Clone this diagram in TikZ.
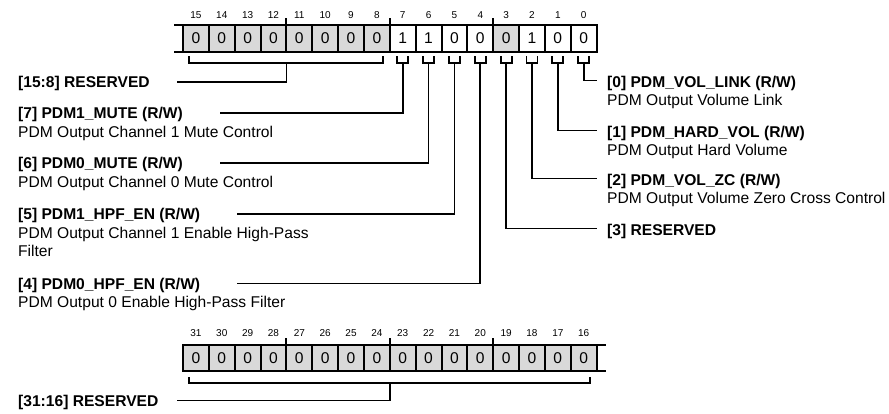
\documentclass[tikz,border=0pt]{standalone}
\usepackage{fontspec}
\setmainfont{Liberation Sans}
\begin{document}
\begin{tikzpicture}[x=1pt,y=1pt,
  cell/.style={draw, line width=2pt, minimum width=25.85pt, minimum height=26.7pt,
    inner sep=0pt, outer sep=0pt, font=\fontsize{15.6}{18}\selectfont, anchor=center},
  res/.style={cell, fill=gray!30},
  wcell/.style={cell, fill=white},
  bitno/.style={font=\fontsize{10}{11}\selectfont, inner sep=0pt},
  conn/.style={line width=1.8pt},
  tickline/.style={line width=2pt},
  lbl/.style={anchor=base west, inner sep=0pt, align=left,
    font=\fontsize{15.6}{18.7}\selectfont}
]
\useasboundingbox (0,0) rectangle (889,-413);

% ---- top register, bits 15..0
\foreach \i/\v/\s in {15/0/res,14/0/res,13/0/res,12/0/res,11/0/res,10/0/res,9/0/res,8/0/res,
                      7/1/wcell,6/1/wcell,5/0/wcell,4/0/wcell,3/0/res,2/1/wcell,1/0/wcell,0/0/wcell} {
  \pgfmathsetmacro\cx{183+25.85*(15-\i)+12.925}
  \node[\s] (t\i) at (\cx,-38.35) {\v};
  \node[bitno] (tn\i) at (\cx,-15) {\i};
}
% ---- bottom register, bits 31..16
\foreach \i in {31,30,...,16} {
  \pgfmathsetmacro\cx{183+25.85*(31-\i)+12.925}
  \node[res] (b\i) at (\cx,-358) {0};
  \node[bitno] (bn\i) at (\cx,-333) {\i};
}

% ticks
\foreach \n in {t11,t7,t3,b27,b23,b19}
  \draw[tickline] (\n.north west) -- ++(0,7);
% register continuation marks
\draw[tickline] (t15.north west) -- ++(-9,0);
\draw[tickline] (t15.south west) -- ++(-9,0);
\draw[tickline] (b16.north east) -- ++(9,0);
\draw[tickline] (b16.south east) -- ++(9,0);

% label end coordinates
\coordinate (c158) at (177,-81.7);
\coordinate (c7) at (220,-113);
\coordinate (c6) at (220,-163);
\coordinate (c5) at (237,-213.7);
\coordinate (c4) at (237,-283.5);
\coordinate (c0) at (597,-80.5);
\coordinate (c1) at (597,-130.5);
\coordinate (c2) at (597,-178.5);
\coordinate (c3) at (597,-228.5);
\coordinate (c3116) at (177,-400.5);

% single-bit brackets and stems
\foreach \i in {7,6,5,4,3,2,1,0} {
  \draw[conn] ([xshift=-5.5pt,yshift=-4.3pt]t\i.south) -- ++(0,-6.7) -- ++(11,0) -- ++(0,6.7);
  \draw[conn] ([yshift=-11pt]t\i.south) |- (c\i);
}
% [15:8] bracket
\draw[conn] ([xshift=6pt,yshift=-4.3pt]t15.south west) -- ++(0,-6.7)
  -| ([xshift=-6.5pt,yshift=-4.3pt]t8.south east);
\draw[conn] ([yshift=-11pt]t11.south west) |- (c158);
% [31:16] bracket
\draw[conn] ([xshift=6pt,yshift=-5.7pt]b31.south west) -- ++(0,-6.3)
  -| ([xshift=-6.5pt,yshift=-5.7pt]b16.south east);
\draw[conn] ([yshift=-12pt]b23.south west) |- (c3116);

% left labels (base anchor = baseline of last line)
\node[lbl] (l158) at (18,-87.3) {\textbf{[15:8] RESERVED}};
\node[lbl] (l7) at (18,-137.3) {\textbf{[7] PDM1\_MUTE (R/W)}\\PDM Output Channel 1 Mute Control};
\node[lbl] (l6) at (18,-187.3) {\textbf{[6] PDM0\_MUTE (R/W)}\\PDM Output Channel 0 Mute Control};
\node[lbl] (l5) at (18,-256.7) {\textbf{[5] PDM1\_HPF\_EN (R/W)}\\PDM Output Channel 1 Enable High-Pass\\Filter};
\node[lbl] (l4) at (18,-307.8) {\textbf{[4] PDM0\_HPF\_EN (R/W)}\\PDM Output 0 Enable High-Pass Filter};
\node[lbl] (l3116) at (18,-406.1) {\textbf{[31:16] RESERVED}};
% right labels
\node[lbl] (r0) at (607,-105.8) {\textbf{[0] PDM\_VOL\_LINK (R/W)}\\PDM Output Volume Link};
\node[lbl] (r1) at (607,-155.8) {\textbf{[1] PDM\_HARD\_VOL (R/W)}\\PDM Output Hard Volume};
\node[lbl] (r2) at (607,-203.8) {\textbf{[2] PDM\_VOL\_ZC (R/W)}\\PDM Output Volume Zero Cross Control};
\node[lbl] (r3) at (607,-235.1) {\textbf{[3] RESERVED}};
\end{tikzpicture}
\end{document}
